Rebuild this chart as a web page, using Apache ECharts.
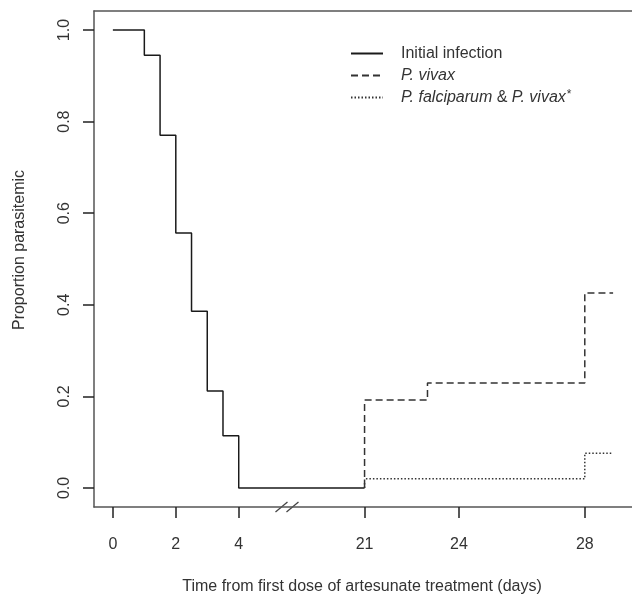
<!DOCTYPE html>
<html>
<head>
<meta charset="utf-8">
<script src="https://cdn.jsdelivr.net/npm/echarts@6/dist/echarts.min.js"></script>
<style>
  html, body { margin: 0; padding: 0; background: #fff; overflow: hidden; }
  #box { width: 632px; height: 599px; }
</style>
</head>
<body>
<div id="box"></div>
<script>
// 数据（天数为真实天数，x 轴在 4 和 21 之间断开）
var initialDays = [0, 1, 1.5, 2, 2.5, 3, 3.5, 4, 21];
var initialProp = [1, 0.945, 0.77, 0.557, 0.386, 0.212, 0.114, 0, 0];

var vivaxDays = [21, 21, 23, 28, 28.9];
var vivaxProp = [0, 0.192, 0.229, 0.426, 0.426];

var mixedDays = [21, 21, 28, 28.9];
var mixedProp = [0, 0.02, 0.076, 0.076];

var xTickDays = [0, 2, 4, 21, 24, 28];
var yTicks = [0, 0.2, 0.4, 0.6, 0.8, 1.0];
var seriesNames = ['Initial infection', 'P. vivax', 'P. falciparum & P. vivax*'];

// 断轴：4 天以后整体往前挪 13 天
var breakFrom = 4, skipDays = 13;
function toAxis(d) {
    return d > breakFrom ? d - skipDays : d;
}
function pairs(days, vals) {
    return days.map(function (d, i) { return [toAxis(d), vals[i]]; });
}
var xTickPos = xTickDays.map(toAxis);

var font = 'Liberation Sans, Arial, sans-serif';
var textColor = '#333';
var boxColor = '#555';
var lineColor = '#1a1a1a';
var noSymbol = { color: 'transparent', borderColor: 'transparent', borderWidth: 0 };

var myChart = echarts.init(document.getElementById('box'));

var option = {
    backgroundColor: '#fff',
    animation: false,
    textStyle: { fontFamily: font },
    // 只画左、上、下三条边，右边在画布外面
    grid: {
        left: 94, top: 11, width: 560, height: 496,
        outerBoundsMode: 'none',
        show: false
    },
    legend: {
        orient: 'vertical',
        left: 350, top: 45,
        padding: 0,
        itemWidth: 32, itemHeight: 14, itemGap: 5,
        selectedMode: false,
        data: seriesNames,
        itemStyle: noSymbol,
        formatter: function (name) {
            if (name === seriesNames[1]) return '{i|P. vivax}';
            if (name === seriesNames[2]) return '{i|P. falciparum} & {i|P. vivax}{s|*}';
            return name;
        },
        textStyle: {
            fontFamily: font, fontSize: 16, color: textColor, lineHeight: 17,
            padding: [0, 0, 0, 13],
            rich: {
                i: { fontFamily: font, fontSize: 16, fontStyle: 'italic', color: textColor, lineHeight: 17 },
                s: { fontFamily: font, fontSize: 12, color: textColor, lineHeight: 17, verticalAlign: 'top', padding: [0, 0, 0, 1] }
            }
        }
    },
    xAxis: [{
        type: 'value',
        min: -0.6, max: 17.2,
        axisLine: { show: true, onZero: false, lineStyle: { color: boxColor, width: 1.5 } },
        splitLine: { show: false },
        axisTick: {
            show: true, inside: false, length: 11,
            customValues: xTickPos,
            lineStyle: { color: '#222', width: 1.5 }
        },
        axisLabel: {
            customValues: xTickPos,
            margin: 30,
            fontFamily: font, fontSize: 16, color: textColor,
            formatter: function (v) {
                var k = xTickPos.indexOf(v);
                return k >= 0 ? String(xTickDays[k]) : '';
            }
        }
    }, {
        // 上边框
        type: 'value',
        position: 'top',
        min: -0.6, max: 17.2,
        axisLine: { show: true, onZero: false, lineStyle: { color: boxColor, width: 1.5 } },
        axisTick: { show: false },
        axisLabel: { show: false },
        splitLine: { show: false }
    }],
    yAxis: {
        type: 'value',
        min: -0.0415, max: 1.0415,
        axisLine: { show: true, onZero: false, lineStyle: { color: boxColor, width: 1.5 } },
        splitLine: { show: false },
        axisTick: {
            show: true, inside: false, length: 11,
            customValues: yTicks,
            lineStyle: { color: '#222', width: 1.5 }
        },
        axisLabel: {
            customValues: yTicks,
            rotate: 90,
            margin: 21,
            fontFamily: font, fontSize: 16, color: textColor,
            formatter: function (v) { return v.toFixed(1); }
        }
    },
    series: [{
        name: seriesNames[0],
        type: 'line',
        step: 'end',
        symbol: 'none',
        data: pairs(initialDays, initialProp),
        lineStyle: { color: lineColor, width: 1.5, type: 'solid' },
        itemStyle: noSymbol
    }, {
        name: seriesNames[1],
        type: 'line',
        step: 'end',
        symbol: 'none',
        data: pairs(vivaxDays, vivaxProp),
        lineStyle: { color: '#333', width: 1.5, type: [7, 4] },
        itemStyle: noSymbol
    }, {
        name: seriesNames[2],
        type: 'line',
        step: 'end',
        symbol: 'none',
        data: pairs(mixedDays, mixedProp),
        lineStyle: { color: '#333', width: 1.5, type: [1.5, 2] },
        itemStyle: noSymbol
    }]
};

myChart.setOption(option);

// 断轴标记 "//" 和坐标轴标题
var breakAt = 5.55;
var p = myChart.convertToPixel({ gridIndex: 0 }, [breakAt, -0.0415]);
myChart.setOption({
    graphic: [
        { type: 'line', shape: { x1: p[0] - 12, y1: p[1] + 5, x2: p[0], y2: p[1] - 5 },
          style: { stroke: '#444', lineWidth: 1.3 } },
        { type: 'line', shape: { x1: p[0] - 1, y1: p[1] + 5, x2: p[0] + 11, y2: p[1] - 5 },
          style: { stroke: '#444', lineWidth: 1.3 } },
        { type: 'text', x: 362, y: 587,
          style: { text: 'Time from first dose of artesunate treatment (days)', fill: textColor,
                   font: '16px ' + font, textAlign: 'center', textVerticalAlign: 'middle' } },
        { type: 'text', x: 20, y: 250, rotation: Math.PI / 2,
          style: { text: 'Proportion parasitemic', fill: textColor,
                   font: '16px ' + font, textAlign: 'center', textVerticalAlign: 'middle' } }
    ]
});
</script>
</body>
</html>
